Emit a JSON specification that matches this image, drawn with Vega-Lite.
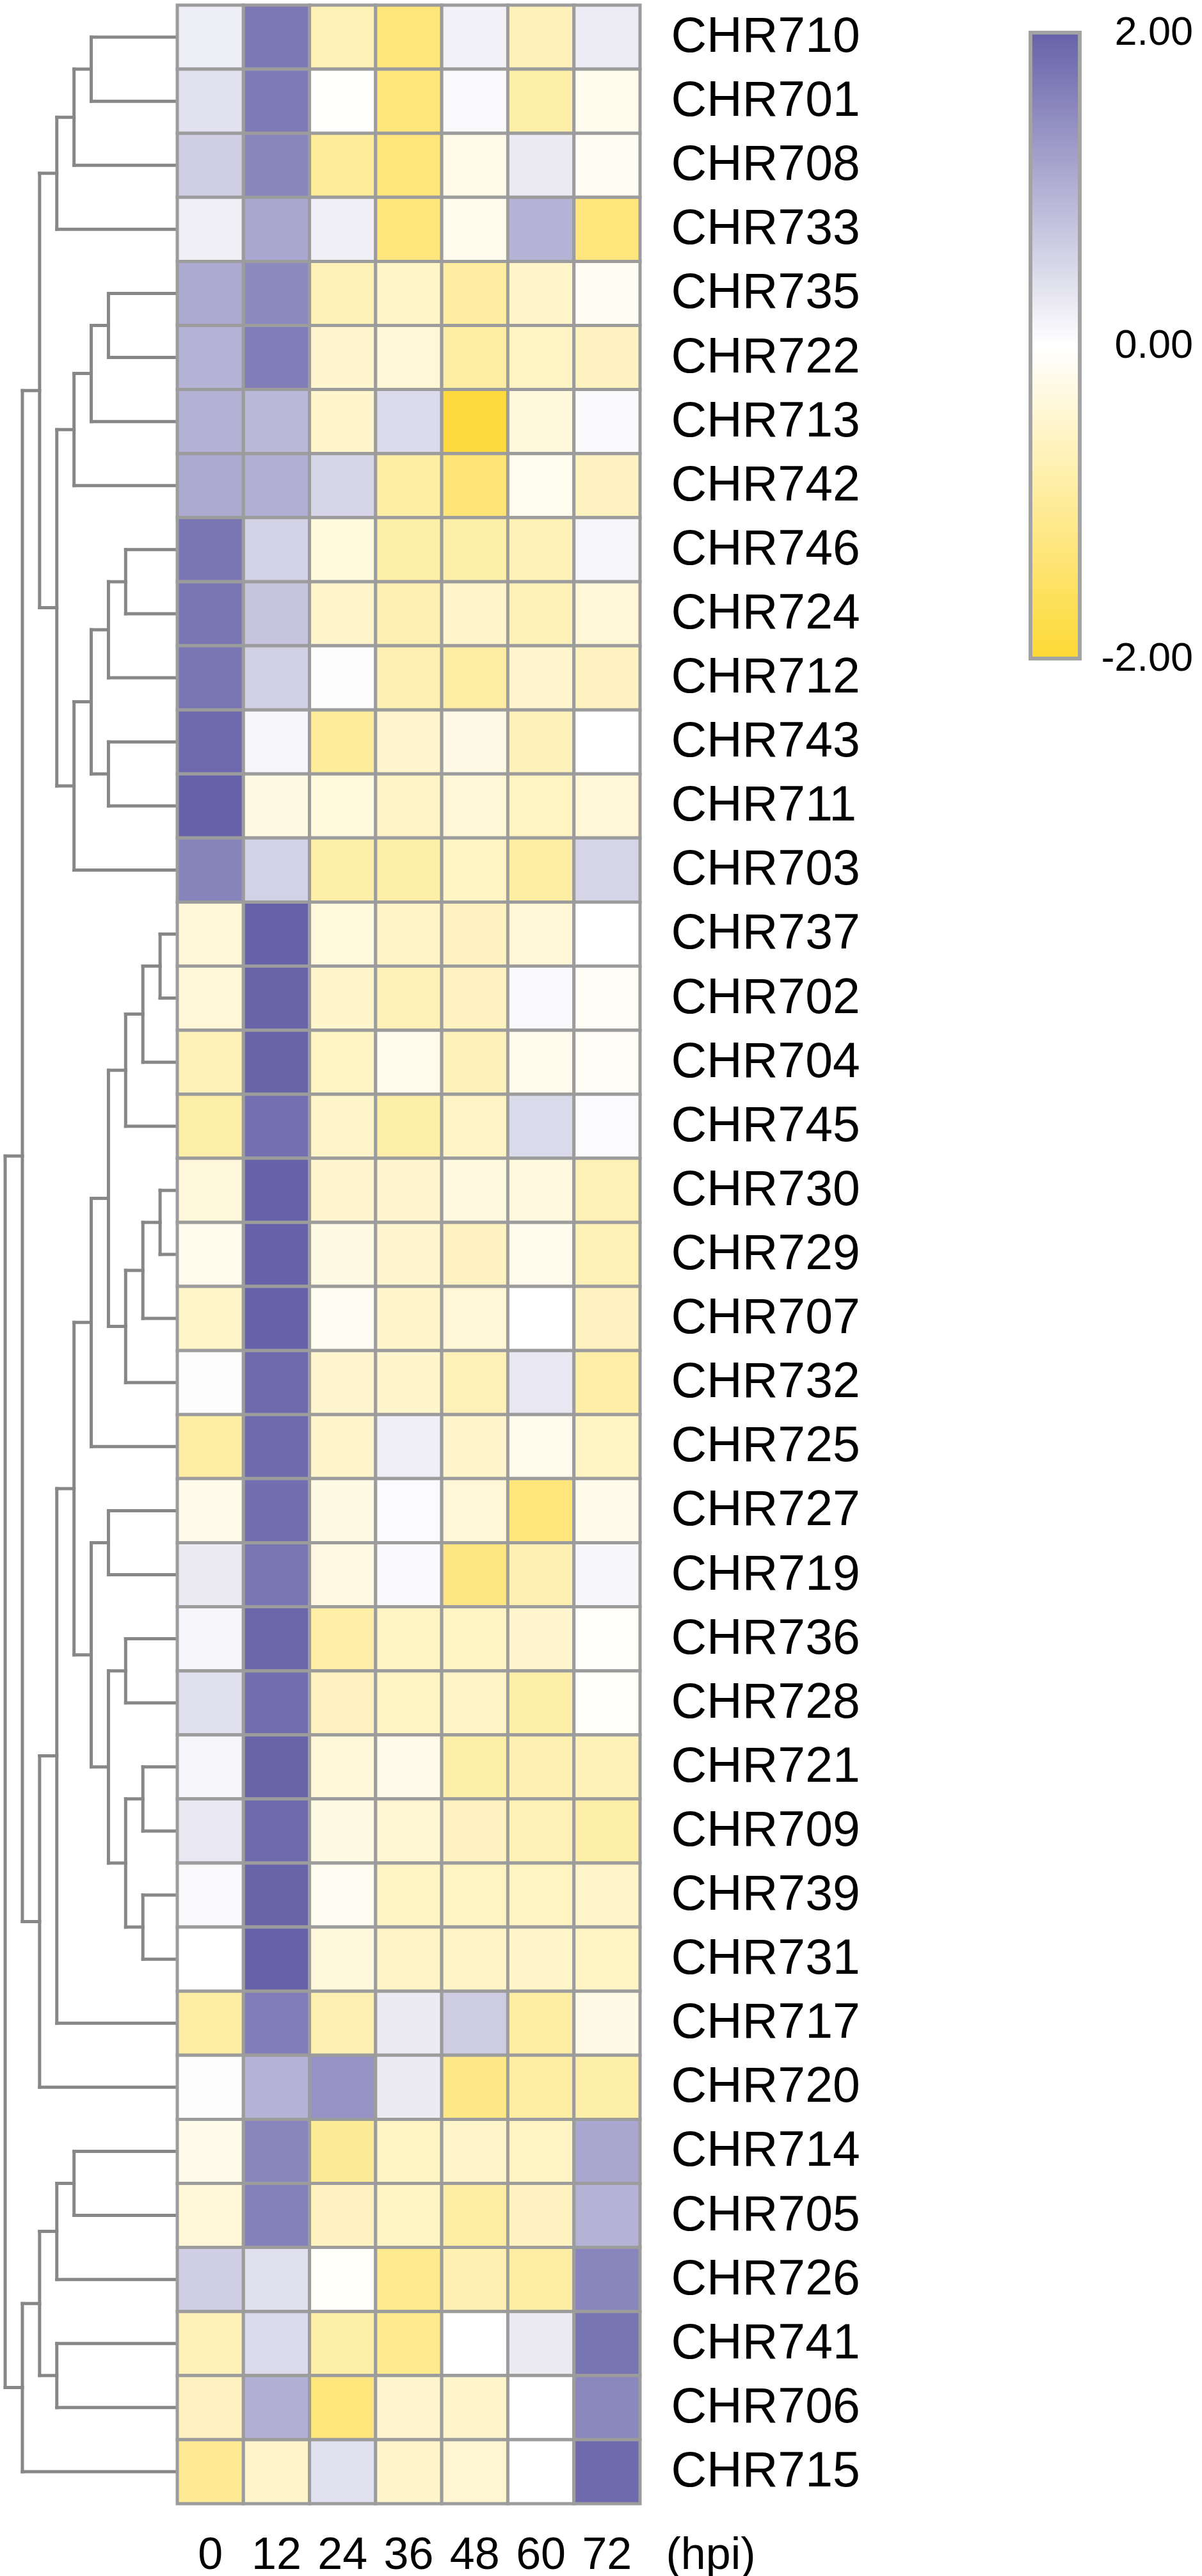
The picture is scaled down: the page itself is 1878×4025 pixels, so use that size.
{
  "$schema": "https://vega.github.io/schema/vega-lite/v6.json",
  "background": "white",
  "padding": {"left": 0, "top": 5, "right": 0, "bottom": 0},
  "config": {"font": "Liberation Sans", "view": {"stroke": null}},
  "spacing": 0,
  "bounds": "flush",
  "resolve": {"scale": {"color": "independent"}, "legend": {"color": "independent"}},
  "datasets": {
    "tree": [
      {"a":5,"b":5,"y":0.5,"y2":1.5},{"a":0,"b":5,"y":0.5,"y2":0.5},{"a":0,"b":5,"y":1.5,"y2":1.5},
      {"a":6,"b":6,"y":1,"y2":2.5},{"a":5,"b":6,"y":1,"y2":1},{"a":0,"b":6,"y":2.5,"y2":2.5},
      {"a":7,"b":7,"y":1.75,"y2":3.5},{"a":6,"b":7,"y":1.75,"y2":1.75},{"a":0,"b":7,"y":3.5,"y2":3.5},
      {"a":4,"b":4,"y":4.5,"y2":5.5},{"a":0,"b":4,"y":4.5,"y2":4.5},{"a":0,"b":4,"y":5.5,"y2":5.5},
      {"a":5,"b":5,"y":5,"y2":6.5},{"a":4,"b":5,"y":5,"y2":5},{"a":0,"b":5,"y":6.5,"y2":6.5},
      {"a":6,"b":6,"y":5.75,"y2":7.5},{"a":5,"b":6,"y":5.75,"y2":5.75},{"a":0,"b":6,"y":7.5,"y2":7.5},
      {"a":3,"b":3,"y":8.5,"y2":9.5},{"a":0,"b":3,"y":8.5,"y2":8.5},{"a":0,"b":3,"y":9.5,"y2":9.5},
      {"a":4,"b":4,"y":9,"y2":10.5},{"a":3,"b":4,"y":9,"y2":9},{"a":0,"b":4,"y":10.5,"y2":10.5},
      {"a":4,"b":4,"y":11.5,"y2":12.5},{"a":0,"b":4,"y":11.5,"y2":11.5},{"a":0,"b":4,"y":12.5,"y2":12.5},
      {"a":5,"b":5,"y":9.75,"y2":12},{"a":4,"b":5,"y":9.75,"y2":9.75},{"a":4,"b":5,"y":12,"y2":12},
      {"a":6,"b":6,"y":10.875,"y2":13.5},{"a":5,"b":6,"y":10.875,"y2":10.875},{"a":0,"b":6,"y":13.5,"y2":13.5},
      {"a":7,"b":7,"y":6.625,"y2":12.1875},{"a":6,"b":7,"y":6.625,"y2":6.625},{"a":6,"b":7,"y":12.1875,"y2":12.1875},
      {"a":8,"b":8,"y":2.625,"y2":9.40625},{"a":7,"b":8,"y":2.625,"y2":2.625},{"a":7,"b":8,"y":9.40625,"y2":9.40625},
      {"a":1,"b":1,"y":14.5,"y2":15.5},{"a":0,"b":1,"y":14.5,"y2":14.5},{"a":0,"b":1,"y":15.5,"y2":15.5},
      {"a":2,"b":2,"y":15,"y2":16.5},{"a":1,"b":2,"y":15,"y2":15},{"a":0,"b":2,"y":16.5,"y2":16.5},
      {"a":3,"b":3,"y":15.75,"y2":17.5},{"a":2,"b":3,"y":15.75,"y2":15.75},{"a":0,"b":3,"y":17.5,"y2":17.5},
      {"a":1,"b":1,"y":18.5,"y2":19.5},{"a":0,"b":1,"y":18.5,"y2":18.5},{"a":0,"b":1,"y":19.5,"y2":19.5},
      {"a":2,"b":2,"y":19,"y2":20.5},{"a":1,"b":2,"y":19,"y2":19},{"a":0,"b":2,"y":20.5,"y2":20.5},
      {"a":3,"b":3,"y":19.75,"y2":21.5},{"a":2,"b":3,"y":19.75,"y2":19.75},{"a":0,"b":3,"y":21.5,"y2":21.5},
      {"a":4,"b":4,"y":16.625,"y2":20.625},{"a":3,"b":4,"y":16.625,"y2":16.625},{"a":3,"b":4,"y":20.625,"y2":20.625},
      {"a":5,"b":5,"y":18.625,"y2":22.5},{"a":4,"b":5,"y":18.625,"y2":18.625},{"a":0,"b":5,"y":22.5,"y2":22.5},
      {"a":4,"b":4,"y":23.5,"y2":24.5},{"a":0,"b":4,"y":23.5,"y2":23.5},{"a":0,"b":4,"y":24.5,"y2":24.5},
      {"a":3,"b":3,"y":25.5,"y2":26.5},{"a":0,"b":3,"y":25.5,"y2":25.5},{"a":0,"b":3,"y":26.5,"y2":26.5},
      {"a":2,"b":2,"y":27.5,"y2":28.5},{"a":0,"b":2,"y":27.5,"y2":27.5},{"a":0,"b":2,"y":28.5,"y2":28.5},
      {"a":2,"b":2,"y":29.5,"y2":30.5},{"a":0,"b":2,"y":29.5,"y2":29.5},{"a":0,"b":2,"y":30.5,"y2":30.5},
      {"a":3,"b":3,"y":28,"y2":30},{"a":2,"b":3,"y":28,"y2":28},{"a":2,"b":3,"y":30,"y2":30},
      {"a":4,"b":4,"y":26,"y2":29},{"a":3,"b":4,"y":26,"y2":26},{"a":3,"b":4,"y":29,"y2":29},
      {"a":5,"b":5,"y":24,"y2":27.5},{"a":4,"b":5,"y":24,"y2":24},{"a":4,"b":5,"y":27.5,"y2":27.5},
      {"a":6,"b":6,"y":20.5625,"y2":25.75},{"a":5,"b":6,"y":20.5625,"y2":20.5625},{"a":5,"b":6,"y":25.75,"y2":25.75},
      {"a":7,"b":7,"y":23.15625,"y2":31.5},{"a":6,"b":7,"y":23.15625,"y2":23.15625},{"a":0,"b":7,"y":31.5,"y2":31.5},
      {"a":8,"b":8,"y":27.328,"y2":32.5},{"a":7,"b":8,"y":27.328,"y2":27.328},{"a":0,"b":8,"y":32.5,"y2":32.5},
      {"a":9,"b":9,"y":6.0156,"y2":29.914},{"a":8,"b":9,"y":6.0156,"y2":6.0156},{"a":8,"b":9,"y":29.914,"y2":29.914},
      {"a":6,"b":6,"y":33.5,"y2":34.5},{"a":0,"b":6,"y":33.5,"y2":33.5},{"a":0,"b":6,"y":34.5,"y2":34.5},
      {"a":7,"b":7,"y":34,"y2":35.5},{"a":6,"b":7,"y":34,"y2":34},{"a":0,"b":7,"y":35.5,"y2":35.5},
      {"a":7,"b":7,"y":36.5,"y2":37.5},{"a":0,"b":7,"y":36.5,"y2":36.5},{"a":0,"b":7,"y":37.5,"y2":37.5},
      {"a":8,"b":8,"y":34.75,"y2":37},{"a":7,"b":8,"y":34.75,"y2":34.75},{"a":7,"b":8,"y":37,"y2":37},
      {"a":9,"b":9,"y":35.875,"y2":38.5},{"a":8,"b":9,"y":35.875,"y2":35.875},{"a":0,"b":9,"y":38.5,"y2":38.5},
      {"a":10,"b":10,"y":17.965,"y2":37.1875},{"a":9,"b":10,"y":17.965,"y2":17.965},{"a":9,"b":10,"y":37.1875,"y2":37.1875}
    ],
    "expr": [
      {"g":"CHR710","t":0,"v":0.22},{"g":"CHR710","t":12,"v":1.72},{"g":"CHR710","t":24,"v":-0.72},{"g":"CHR710","t":36,"v":-1.32},{"g":"CHR710","t":48,"v":0.18},{"g":"CHR710","t":60,"v":-0.68},{"g":"CHR710","t":72,"v":0.24},
      {"g":"CHR701","t":0,"v":0.38},{"g":"CHR701","t":12,"v":1.7},{"g":"CHR701","t":24,"v":-0.02},{"g":"CHR701","t":36,"v":-1.32},{"g":"CHR701","t":48,"v":0.07},{"g":"CHR701","t":60,"v":-0.86},{"g":"CHR701","t":72,"v":-0.17},
      {"g":"CHR708","t":0,"v":0.61},{"g":"CHR708","t":12,"v":1.54},{"g":"CHR708","t":24,"v":-1.0},{"g":"CHR708","t":36,"v":-1.3},{"g":"CHR708","t":48,"v":-0.23},{"g":"CHR708","t":60,"v":0.25},{"g":"CHR708","t":72,"v":-0.12},
      {"g":"CHR733","t":0,"v":0.2},{"g":"CHR733","t":12,"v":1.12},{"g":"CHR733","t":24,"v":0.2},{"g":"CHR733","t":36,"v":-1.3},{"g":"CHR733","t":48,"v":-0.17},{"g":"CHR733","t":60,"v":0.98},{"g":"CHR733","t":72,"v":-1.3},
      {"g":"CHR735","t":0,"v":1.08},{"g":"CHR735","t":12,"v":1.49},{"g":"CHR735","t":24,"v":-0.73},{"g":"CHR735","t":36,"v":-0.53},{"g":"CHR735","t":48,"v":-0.94},{"g":"CHR735","t":60,"v":-0.52},{"g":"CHR735","t":72,"v":-0.12},
      {"g":"CHR722","t":0,"v":0.97},{"g":"CHR722","t":12,"v":1.66},{"g":"CHR722","t":24,"v":-0.47},{"g":"CHR722","t":36,"v":-0.42},{"g":"CHR722","t":48,"v":-0.9},{"g":"CHR722","t":60,"v":-0.58},{"g":"CHR722","t":72,"v":-0.62},
      {"g":"CHR713","t":0,"v":1.0},{"g":"CHR713","t":12,"v":0.9},{"g":"CHR713","t":24,"v":-0.5},{"g":"CHR713","t":36,"v":0.47},{"g":"CHR713","t":48,"v":-1.91},{"g":"CHR713","t":60,"v":-0.35},{"g":"CHR713","t":72,"v":0.07},
      {"g":"CHR742","t":0,"v":1.08},{"g":"CHR742","t":12,"v":1.02},{"g":"CHR742","t":24,"v":0.54},{"g":"CHR742","t":36,"v":-0.9},{"g":"CHR742","t":48,"v":-1.36},{"g":"CHR742","t":60,"v":-0.15},{"g":"CHR742","t":72,"v":-0.62},
      {"g":"CHR746","t":0,"v":1.74},{"g":"CHR746","t":12,"v":0.58},{"g":"CHR746","t":24,"v":-0.33},{"g":"CHR746","t":36,"v":-0.86},{"g":"CHR746","t":48,"v":-0.86},{"g":"CHR746","t":60,"v":-0.7},{"g":"CHR746","t":72,"v":0.12},
      {"g":"CHR724","t":0,"v":1.74},{"g":"CHR724","t":12,"v":0.75},{"g":"CHR724","t":24,"v":-0.5},{"g":"CHR724","t":36,"v":-0.78},{"g":"CHR724","t":48,"v":-0.5},{"g":"CHR724","t":60,"v":-0.7},{"g":"CHR724","t":72,"v":-0.41},
      {"g":"CHR712","t":0,"v":1.74},{"g":"CHR712","t":12,"v":0.6},{"g":"CHR712","t":24,"v":0.02},{"g":"CHR712","t":36,"v":-0.78},{"g":"CHR712","t":48,"v":-0.9},{"g":"CHR712","t":60,"v":-0.47},{"g":"CHR712","t":72,"v":-0.62},
      {"g":"CHR743","t":0,"v":1.9},{"g":"CHR743","t":12,"v":0.12},{"g":"CHR743","t":24,"v":-1.0},{"g":"CHR743","t":36,"v":-0.47},{"g":"CHR743","t":48,"v":-0.25},{"g":"CHR743","t":60,"v":-0.66},{"g":"CHR743","t":72,"v":0.0},
      {"g":"CHR711","t":0,"v":2.0},{"g":"CHR711","t":12,"v":-0.27},{"g":"CHR711","t":24,"v":-0.33},{"g":"CHR711","t":36,"v":-0.56},{"g":"CHR711","t":48,"v":-0.41},{"g":"CHR711","t":60,"v":-0.6},{"g":"CHR711","t":72,"v":-0.41},
      {"g":"CHR703","t":0,"v":1.57},{"g":"CHR703","t":12,"v":0.58},{"g":"CHR703","t":24,"v":-0.86},{"g":"CHR703","t":36,"v":-0.86},{"g":"CHR703","t":48,"v":-0.58},{"g":"CHR703","t":60,"v":-0.9},{"g":"CHR703","t":72,"v":0.54},
      {"g":"CHR737","t":0,"v":-0.4},{"g":"CHR737","t":12,"v":2.0},{"g":"CHR737","t":24,"v":-0.33},{"g":"CHR737","t":36,"v":-0.56},{"g":"CHR737","t":48,"v":-0.62},{"g":"CHR737","t":60,"v":-0.41},{"g":"CHR737","t":72,"v":0.0},
      {"g":"CHR702","t":0,"v":-0.4},{"g":"CHR702","t":12,"v":1.98},{"g":"CHR702","t":24,"v":-0.5},{"g":"CHR702","t":36,"v":-0.7},{"g":"CHR702","t":48,"v":-0.62},{"g":"CHR702","t":60,"v":0.07},{"g":"CHR702","t":72,"v":-0.1},
      {"g":"CHR704","t":0,"v":-0.7},{"g":"CHR704","t":12,"v":1.98},{"g":"CHR704","t":24,"v":-0.58},{"g":"CHR704","t":36,"v":-0.18},{"g":"CHR704","t":48,"v":-0.68},{"g":"CHR704","t":60,"v":-0.18},{"g":"CHR704","t":72,"v":-0.1},
      {"g":"CHR745","t":0,"v":-0.86},{"g":"CHR745","t":12,"v":1.83},{"g":"CHR745","t":24,"v":-0.52},{"g":"CHR745","t":36,"v":-0.86},{"g":"CHR745","t":48,"v":-0.56},{"g":"CHR745","t":60,"v":0.47},{"g":"CHR745","t":72,"v":0.05},
      {"g":"CHR730","t":0,"v":-0.35},{"g":"CHR730","t":12,"v":2.0},{"g":"CHR730","t":24,"v":-0.47},{"g":"CHR730","t":36,"v":-0.47},{"g":"CHR730","t":48,"v":-0.32},{"g":"CHR730","t":60,"v":-0.32},{"g":"CHR730","t":72,"v":-0.72},
      {"g":"CHR729","t":0,"v":-0.17},{"g":"CHR729","t":12,"v":2.0},{"g":"CHR729","t":24,"v":-0.27},{"g":"CHR729","t":36,"v":-0.47},{"g":"CHR729","t":48,"v":-0.62},{"g":"CHR729","t":60,"v":-0.18},{"g":"CHR729","t":72,"v":-0.73},
      {"g":"CHR707","t":0,"v":-0.53},{"g":"CHR707","t":12,"v":2.0},{"g":"CHR707","t":24,"v":-0.13},{"g":"CHR707","t":36,"v":-0.5},{"g":"CHR707","t":48,"v":-0.41},{"g":"CHR707","t":60,"v":0.0},{"g":"CHR707","t":72,"v":-0.62},
      {"g":"CHR732","t":0,"v":0.03},{"g":"CHR732","t":12,"v":1.9},{"g":"CHR732","t":24,"v":-0.47},{"g":"CHR732","t":36,"v":-0.5},{"g":"CHR732","t":48,"v":-0.7},{"g":"CHR732","t":60,"v":0.3},{"g":"CHR732","t":72,"v":-0.88},
      {"g":"CHR725","t":0,"v":-0.9},{"g":"CHR725","t":12,"v":1.9},{"g":"CHR725","t":24,"v":-0.5},{"g":"CHR725","t":36,"v":0.2},{"g":"CHR725","t":48,"v":-0.5},{"g":"CHR725","t":60,"v":-0.18},{"g":"CHR725","t":72,"v":-0.58},
      {"g":"CHR727","t":0,"v":-0.21},{"g":"CHR727","t":12,"v":1.84},{"g":"CHR727","t":24,"v":-0.27},{"g":"CHR727","t":36,"v":0.05},{"g":"CHR727","t":48,"v":-0.41},{"g":"CHR727","t":60,"v":-1.3},{"g":"CHR727","t":72,"v":-0.21},
      {"g":"CHR719","t":0,"v":0.25},{"g":"CHR719","t":12,"v":1.74},{"g":"CHR719","t":24,"v":-0.29},{"g":"CHR719","t":36,"v":0.07},{"g":"CHR719","t":48,"v":-1.24},{"g":"CHR719","t":60,"v":-0.78},{"g":"CHR719","t":72,"v":0.1},
      {"g":"CHR736","t":0,"v":0.12},{"g":"CHR736","t":12,"v":1.95},{"g":"CHR736","t":24,"v":-0.88},{"g":"CHR736","t":36,"v":-0.58},{"g":"CHR736","t":48,"v":-0.58},{"g":"CHR736","t":60,"v":-0.47},{"g":"CHR736","t":72,"v":-0.07},
      {"g":"CHR728","t":0,"v":0.41},{"g":"CHR728","t":12,"v":1.85},{"g":"CHR728","t":24,"v":-0.62},{"g":"CHR728","t":36,"v":-0.58},{"g":"CHR728","t":48,"v":-0.56},{"g":"CHR728","t":60,"v":-0.86},{"g":"CHR728","t":72,"v":-0.07},
      {"g":"CHR721","t":0,"v":0.12},{"g":"CHR721","t":12,"v":1.97},{"g":"CHR721","t":24,"v":-0.4},{"g":"CHR721","t":36,"v":-0.21},{"g":"CHR721","t":48,"v":-0.86},{"g":"CHR721","t":60,"v":-0.78},{"g":"CHR721","t":72,"v":-0.7},
      {"g":"CHR709","t":0,"v":0.3},{"g":"CHR709","t":12,"v":1.9},{"g":"CHR709","t":24,"v":-0.27},{"g":"CHR709","t":36,"v":-0.45},{"g":"CHR709","t":48,"v":-0.62},{"g":"CHR709","t":60,"v":-0.73},{"g":"CHR709","t":72,"v":-0.86},
      {"g":"CHR739","t":0,"v":0.07},{"g":"CHR739","t":12,"v":1.97},{"g":"CHR739","t":24,"v":-0.13},{"g":"CHR739","t":36,"v":-0.58},{"g":"CHR739","t":48,"v":-0.6},{"g":"CHR739","t":60,"v":-0.6},{"g":"CHR739","t":72,"v":-0.52},
      {"g":"CHR731","t":0,"v":0.0},{"g":"CHR731","t":12,"v":2.0},{"g":"CHR731","t":24,"v":-0.35},{"g":"CHR731","t":36,"v":-0.56},{"g":"CHR731","t":48,"v":-0.56},{"g":"CHR731","t":60,"v":-0.52},{"g":"CHR731","t":72,"v":-0.58},
      {"g":"CHR717","t":0,"v":-0.9},{"g":"CHR717","t":12,"v":1.65},{"g":"CHR717","t":24,"v":-0.78},{"g":"CHR717","t":36,"v":0.25},{"g":"CHR717","t":48,"v":0.65},{"g":"CHR717","t":60,"v":-0.9},{"g":"CHR717","t":72,"v":-0.25},
      {"g":"CHR720","t":0,"v":0.03},{"g":"CHR720","t":12,"v":0.97},{"g":"CHR720","t":24,"v":1.36},{"g":"CHR720","t":36,"v":0.25},{"g":"CHR720","t":48,"v":-1.21},{"g":"CHR720","t":60,"v":-0.9},{"g":"CHR720","t":72,"v":-0.86},
      {"g":"CHR714","t":0,"v":-0.21},{"g":"CHR714","t":12,"v":1.54},{"g":"CHR714","t":24,"v":-1.04},{"g":"CHR714","t":36,"v":-0.58},{"g":"CHR714","t":48,"v":-0.52},{"g":"CHR714","t":60,"v":-0.58},{"g":"CHR714","t":72,"v":1.12},
      {"g":"CHR705","t":0,"v":-0.41},{"g":"CHR705","t":12,"v":1.61},{"g":"CHR705","t":24,"v":-0.62},{"g":"CHR705","t":36,"v":-0.58},{"g":"CHR705","t":48,"v":-0.9},{"g":"CHR705","t":60,"v":-0.62},{"g":"CHR705","t":72,"v":0.98},
      {"g":"CHR726","t":0,"v":0.62},{"g":"CHR726","t":12,"v":0.41},{"g":"CHR726","t":24,"v":-0.07},{"g":"CHR726","t":36,"v":-1.11},{"g":"CHR726","t":48,"v":-0.78},{"g":"CHR726","t":60,"v":-0.9},{"g":"CHR726","t":72,"v":1.54},
      {"g":"CHR741","t":0,"v":-0.7},{"g":"CHR741","t":12,"v":0.47},{"g":"CHR741","t":24,"v":-0.86},{"g":"CHR741","t":36,"v":-1.11},{"g":"CHR741","t":48,"v":0.0},{"g":"CHR741","t":60,"v":0.25},{"g":"CHR741","t":72,"v":1.76},
      {"g":"CHR706","t":0,"v":-0.62},{"g":"CHR706","t":12,"v":1.02},{"g":"CHR706","t":24,"v":-1.3},{"g":"CHR706","t":36,"v":-0.47},{"g":"CHR706","t":48,"v":-0.52},{"g":"CHR706","t":60,"v":0.0},{"g":"CHR706","t":72,"v":1.52},
      {"g":"CHR715","t":0,"v":-1.06},{"g":"CHR715","t":12,"v":-0.5},{"g":"CHR715","t":24,"v":0.38},{"g":"CHR715","t":36,"v":-0.5},{"g":"CHR715","t":48,"v":-0.45},{"g":"CHR715","t":60,"v":0.0},{"g":"CHR715","t":72,"v":1.9}
    ]
  },
  "hconcat": [
    {
      "width": 277,
      "height": 3904,
      "data": {"name": "tree"},
      "mark": {"type": "rule", "color": "#878787", "strokeWidth": 5, "strokeCap": "square"},
      "encoding": {
        "x": {"field": "a", "type": "quantitative", "scale": {"domain": [0, 10.3], "reverse": true, "nice": false, "zero": false}, "axis": null},
        "x2": {"field": "b"},
        "y": {"field": "y", "type": "quantitative", "scale": {"domain": [0, 39], "reverse": true, "nice": false, "zero": false}, "axis": null},
        "y2": {"field": "y2"}
      }
    },
    {
      "width": 723,
      "height": 3904,
      "data": {"name": "expr"},
      "mark": {"type": "rect", "stroke": "#9c9c9c", "strokeWidth": 5},
      "encoding": {
        "x": {
          "field": "t", "type": "ordinal", "sort": "ascending",
          "scale": {"paddingInner": 0, "paddingOuter": 0},
          "axis": {
            "orient": "bottom", "ticks": false, "domain": false, "labelAngle": 0,
            "labelFontSize": 70, "labelPadding": 46, "labelColor": "black", "labelFont": "Liberation Sans",
            "title": "(hpi)", "titleFontSize": 70, "titleFontWeight": "normal", "titleColor": "black", "titleFont": "Liberation Sans",
            "titleX": 763, "titleY": 46, "titleAlign": "left", "titleBaseline": "top", "titleAngle": 0
          }
        },
        "y": {
          "field": "g", "type": "nominal",
          "sort": ["CHR710","CHR701","CHR708","CHR733","CHR735","CHR722","CHR713","CHR742","CHR746","CHR724","CHR712","CHR743","CHR711","CHR703","CHR737","CHR702","CHR704","CHR745","CHR730","CHR729","CHR707","CHR732","CHR725","CHR727","CHR719","CHR736","CHR728","CHR721","CHR709","CHR739","CHR731","CHR717","CHR720","CHR714","CHR705","CHR726","CHR741","CHR706","CHR715"],
          "scale": {"paddingInner": 0, "paddingOuter": 0},
          "axis": {
            "orient": "right", "ticks": false, "domain": false, "title": null,
            "labelFontSize": 77, "labelPadding": 48, "labelColor": "black", "labelFont": "Liberation Sans",
            "labelLimit": 0, "labelOverlap": false
          }
        },
        "color": {
          "field": "v", "type": "quantitative",
          "scale": {"domain": [-2, 0, 2], "range": ["#fdd935", "#ffffff", "#6662a9"], "interpolate": "rgb"},
          "legend": {
            "orient": "none", "legendX": 1333, "legendY": 43, "direction": "vertical",
            "gradientLength": 978, "gradientThickness": 77,
            "gradientStrokeColor": "#a3a3a3", "gradientStrokeWidth": 6,
            "values": [-2, 0, 2],
            "labelExpr": "datum.value < 0 ? '-' + format(-datum.value, '.2f') : format(datum.value, '.2f')",
            "labelFontSize": 63, "labelFont": "Liberation Sans", "labelColor": "black", "labelOffset": 177,
            "labelOverlap": false, "title": null, "padding": 0,
            "encode": {"labels": {"update": {"baseline": {"value": "middle"}, "align": {"value": "right"}}}}
          }
        }
      }
    }
  ]
}
